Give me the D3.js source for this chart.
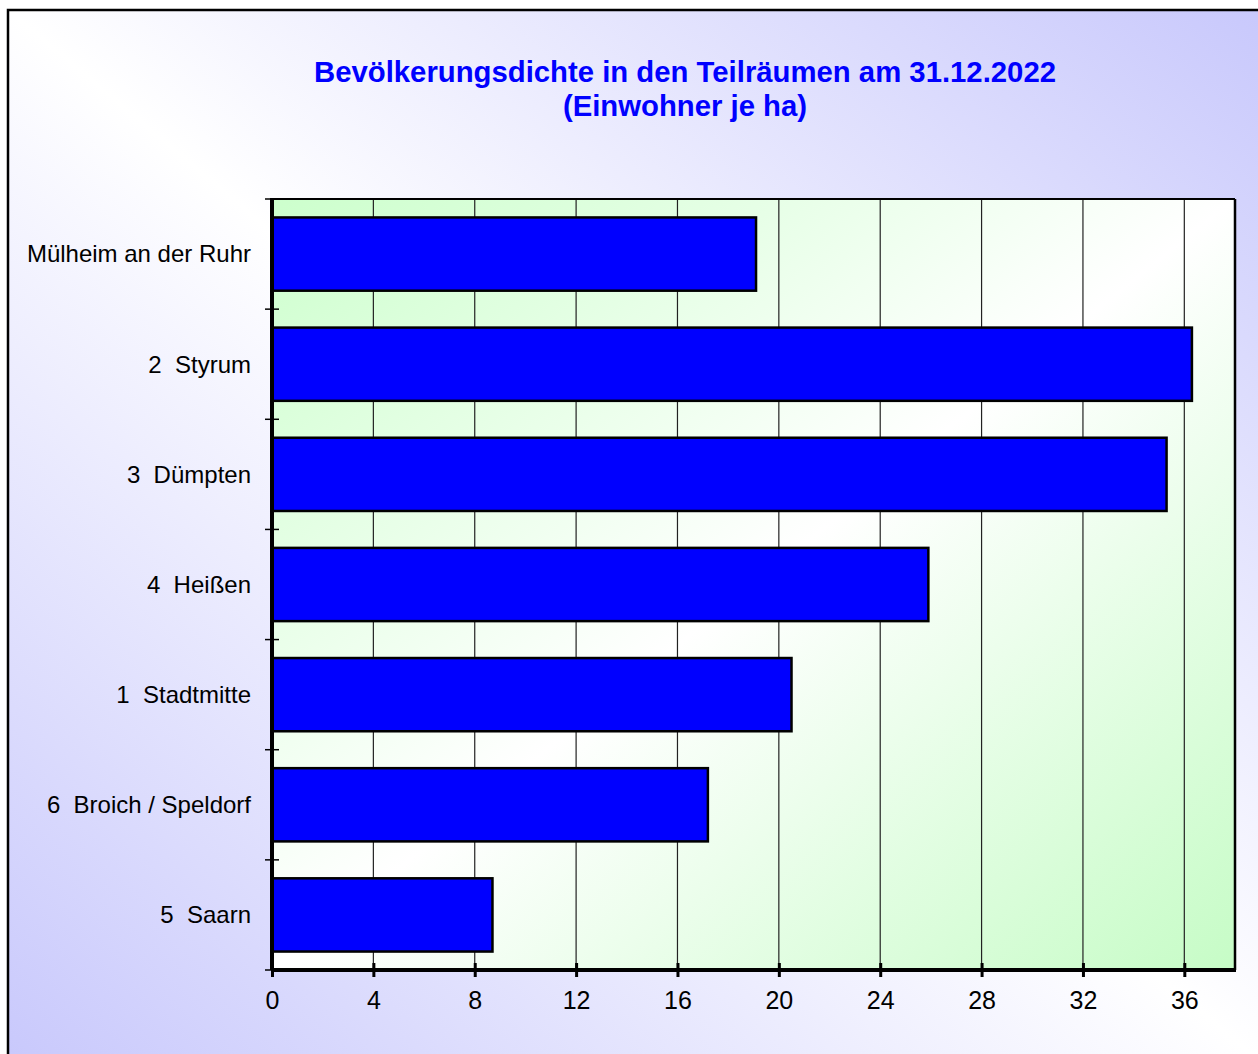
<!DOCTYPE html>
<html>
<head>
<meta charset="utf-8">
<script src="https://cdn.jsdelivr.net/npm/d3@7"></script>
<style>
  body { margin: 0; background: #fff; }
  svg { display: block; font-family: "Liberation Sans", Arial, sans-serif; }
</style>
</head>
<body>
<svg id="chart" width="1258" height="1054"></svg>
<script>
// data
let categories = ["Mülheim an der Ruhr", "2  Styrum", "3  Dümpten", "4  Heißen", "1  Stadtmitte", "6  Broich / Speldorf", "5  Saarn"];
let values = [19.1, 36.3, 35.3, 25.9, 20.5, 17.2, 8.7];
let xTicks = [0, 4, 8, 12, 16, 20, 24, 28, 32, 36];
let titleLines = ["Bevölkerungsdichte in den Teilräumen am 31.12.2022", "(Einwohner je ha)"];

let svg = d3.select("#chart");
let defs = svg.append("defs");

// reflected gradients: outer = lavender/white/lavender, plot = green/white/green
let outerGrad = defs.append("linearGradient").attr("id", "outerGrad")
    .attr("x1", 0).attr("y1", 1).attr("x2", 1).attr("y2", 0);
outerGrad.append("stop").attr("offset", "0%").attr("stop-color", "#c8c8fc");
outerGrad.append("stop").attr("offset", "50%").attr("stop-color", "#ffffff");
outerGrad.append("stop").attr("offset", "100%").attr("stop-color", "#c8c8fc");

let plotGrad = defs.append("linearGradient").attr("id", "plotGrad")
    .attr("x1", 0).attr("y1", 0).attr("x2", 1).attr("y2", 1);
plotGrad.append("stop").attr("offset", "0%").attr("stop-color", "#ccffcc");
plotGrad.append("stop").attr("offset", "50%").attr("stop-color", "#ffffff");
plotGrad.append("stop").attr("offset", "100%").attr("stop-color", "#c6fcc6");

// outer frame (runs off the right/bottom edge like the original)
svg.append("rect")
    .attr("x", 8).attr("y", 10)
    .attr("width", 1262).attr("height", 1060)
    .attr("fill", "url(#outerGrad)")
    .attr("stroke", "#000").attr("stroke-width", 2.5);

// title
svg.append("text")
    .attr("x", 685).attr("y", 82)
    .attr("text-anchor", "middle")
    .attr("font-size", 29.3).attr("font-weight", "bold")
    .attr("fill", "#0000ff")
    .selectAll("tspan").data(titleLines).enter().append("tspan")
    .attr("x", 685)
    .attr("dy", (d, i) => i == 0 ? 0 : 34)
    .text(d => d);

let pLeft = 272, pRight = 1235, pTop = 199, pBottom = 970; // plot box

let x = d3.scaleLinear().domain([0, 38]).range([pLeft, pRight]);
let y = d3.scaleBand().domain(categories).range([pTop, pBottom]).paddingInner(0.335).paddingOuter(0.1675);

// plot background
svg.append("rect")
    .attr("x", pLeft).attr("y", pTop)
    .attr("width", pRight - pLeft).attr("height", pBottom - pTop)
    .attr("fill", "url(#plotGrad)");

// vertical grid lines
svg.append("g")
    .selectAll("line").data(xTicks.slice(1)).enter().append("line")
    .attr("x1", d => x(d)).attr("x2", d => x(d))
    .attr("y1", pTop).attr("y2", pBottom)
    .attr("stroke", "#222").attr("stroke-width", 1.2);

// bars
svg.append("g")
    .selectAll("rect").data(values).enter().append("rect")
    .attr("x", x(0))
    .attr("y", (d, i) => y(categories[i]))
    .attr("width", d => x(d) - x(0))
    .attr("height", y.bandwidth())
    .attr("fill", "#0000ff")
    .attr("stroke", "#000").attr("stroke-width", 2.5);

// plot border: top and right
svg.append("line").attr("x1", pLeft).attr("x2", pRight).attr("y1", pTop).attr("y2", pTop)
    .attr("stroke", "#000").attr("stroke-width", 2);
svg.append("line").attr("x1", pRight).attr("x2", pRight).attr("y1", pTop).attr("y2", pBottom)
    .attr("stroke", "#000").attr("stroke-width", 2.5);

// x axis (ticks cross the axis line)
let xAxis = svg.append("g").attr("transform", "translate(0," + pBottom + ")")
    .call(d3.axisBottom(x).tickValues(xTicks).tickSize(7).tickSizeOuter(0).tickPadding(14));
xAxis.select(".domain").remove();
xAxis.selectAll(".tick line").attr("y1", -7).attr("stroke-width", 3);
xAxis.selectAll(".tick text")
    .attr("font-size", 25).attr("font-family", "Liberation Sans, Arial, sans-serif")
    .attr("fill", "#000");
svg.append("line").attr("x1", pLeft - 1).attr("x2", pRight + 1).attr("y1", pBottom).attr("y2", pBottom)
    .attr("stroke", "#000").attr("stroke-width", 4);

// y axis: category boundary ticks
let bounds = categories.map(c => y(c) - y.step() * y.paddingInner() / 2).concat([pBottom]);
svg.append("g").selectAll("line").data(bounds).enter().append("line")
    .attr("x1", pLeft - 7).attr("x2", pLeft + 7)
    .attr("y1", d => d).attr("y2", d => d)
    .attr("stroke", "#000").attr("stroke-width", 1.5);
svg.append("line").attr("x1", pLeft).attr("x2", pLeft).attr("y1", pTop - 1).attr("y2", pBottom)
    .attr("stroke", "#000").attr("stroke-width", 4);

// category labels
svg.append("g")
    .selectAll("text").data(categories).enter().append("text")
    .attr("x", 251)
    .attr("y", d => y(d) + y.bandwidth() / 2)
    .attr("dy", "0.35em")
    .attr("text-anchor", "end")
    .attr("font-size", 24)
    .attr("fill", "#000")
    .style("white-space", "pre")
    .text(d => d);
</script>
</body>
</html>
